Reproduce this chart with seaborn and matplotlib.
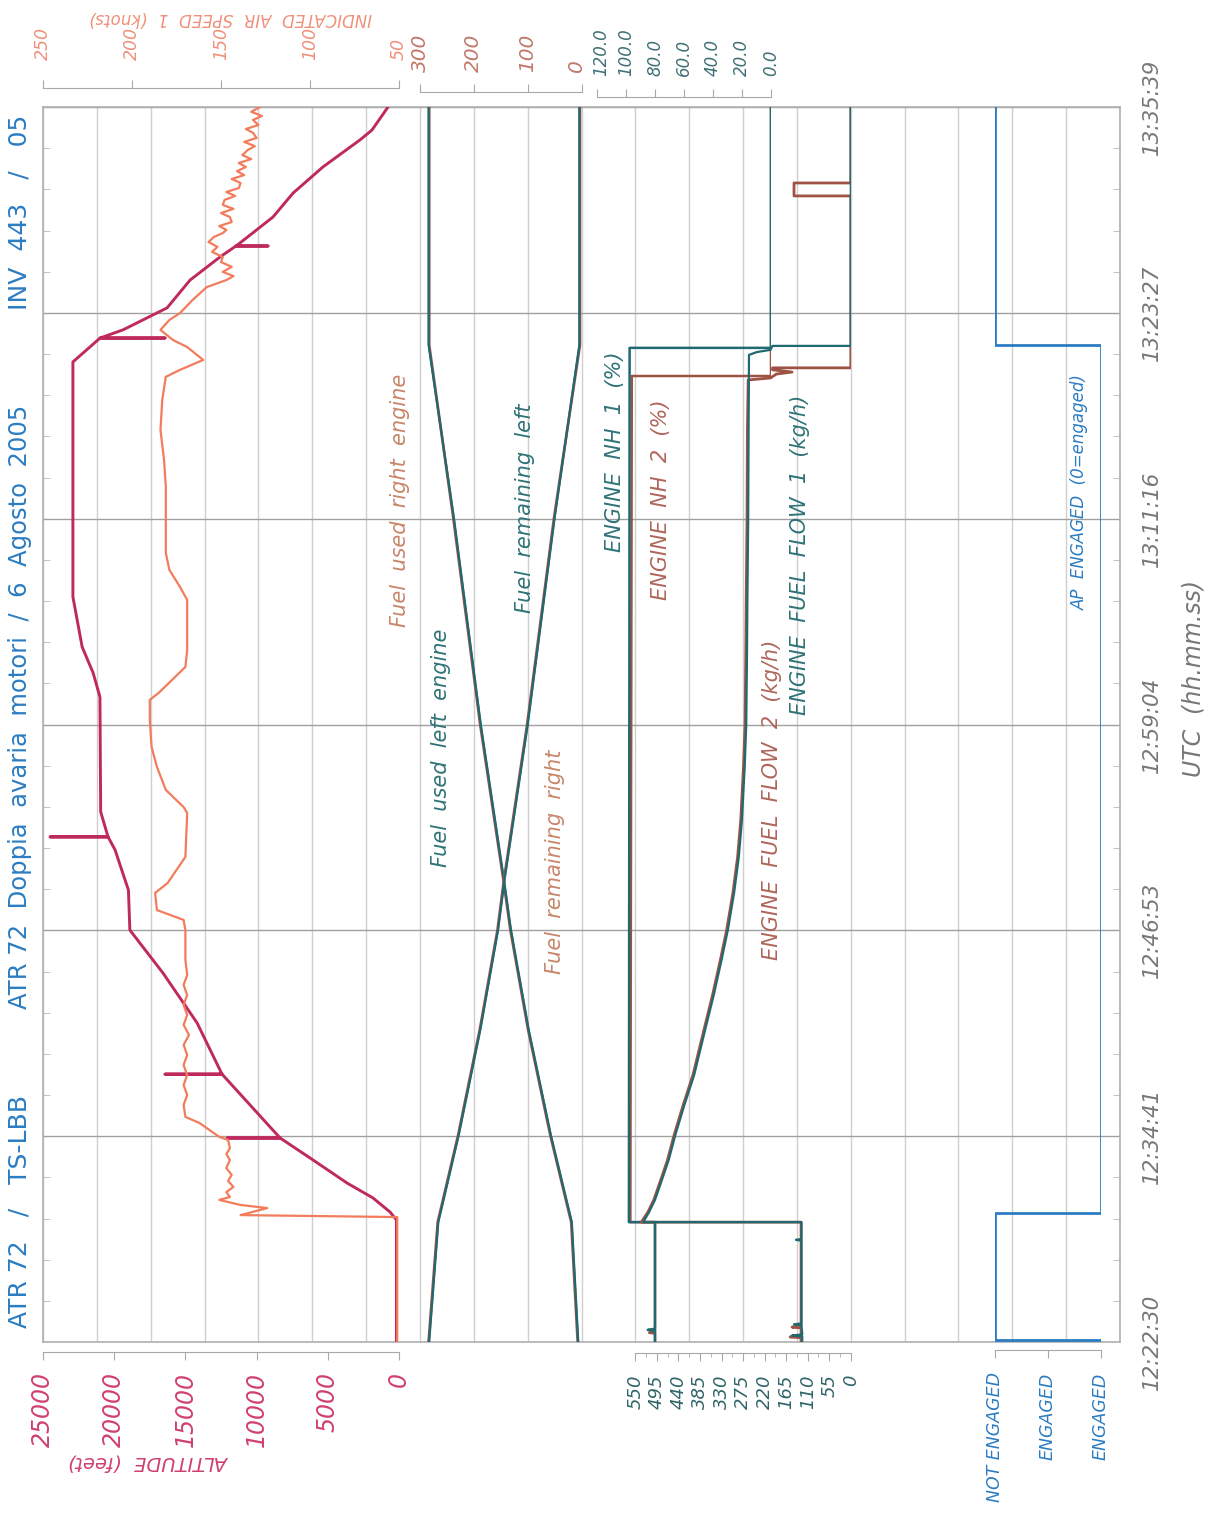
import matplotlib
matplotlib.use("Agg")
import matplotlib.pyplot as plt
import matplotlib.transforms as mtransforms
import seaborn as sns

# ---------------- data (time = seconds after 12:22:30 UTC) ----------------
TIME_TICKS_S = [0, 731.5, 1463, 2194.5, 2926, 3657.5, 4389]
TIME_LABELS = ["12:22:30", "12:34:41", "12:46:53", "12:59:04", "13:11:16", "13:23:27", "13:35:39"]

ALT_T = [0, 434, 462, 512, 565, 647, 725, 725, 725, 952, 952, 952, 1134, 1311, 1464, 1606,
         1749, 1795, 1795, 1795, 1884, 2292, 2378, 2470, 2566, 2648, 3483, 3568, 3568, 3568,
         3597, 3675, 3774, 3856, 3895, 3895, 3895, 3906, 3998, 4083, 4176, 4272, 4307, 4389]
ALT_FT = [180, 180, 630, 1830, 3650, 6040, 8350, 12070, 8350, 12430, 16430, 12430, 14180, 16570,
          18900, 19000, 19940, 20430, 24500, 20430, 20950, 21000, 21480, 22250, 22600, 22900,
          22900, 20990, 16430, 20990, 19380, 16290, 14670, 12570, 11450, 9200, 11450, 11160,
          8850, 7440, 5340, 2740, 1900, 770]

IAS_T = [0, 444, 451, 476, 487, 505, 515, 533, 551, 572, 594, 618, 647, 668, 689, 718, 729, 778,
         800, 842, 878, 913, 949, 984, 1020, 1056, 1091, 1127, 1162, 1198, 1233, 1269, 1304, 1358,
         1411, 1464, 1500, 1535, 1596, 1631, 1724, 1880, 1901, 1962, 2044, 2115, 2211, 2282, 2307,
         2399, 2459, 2548, 2637, 2683, 2744, 2804, 2921, 3039, 3135, 3241, 3348, 3430, 3455, 3490,
         3536, 3561, 3597, 3632, 3657, 3703, 3749, 3774, 3788, 3803, 3821, 3838, 3856, 3874, 3892,
         3909, 3927, 3941, 3952, 3966, 3980, 3998, 4012, 4027, 4041, 4059, 4073, 4087, 4101, 4119,
         4133, 4147, 4161, 4176, 4190, 4204, 4218, 4236, 4250, 4265, 4279, 4297, 4311, 4325, 4343,
         4357, 4372, 4389]
IAS_KT = [51, 51, 139, 124, 139, 151, 145, 147, 143, 146, 144, 147, 145, 147, 145, 146, 151, 162,
          170, 171, 169, 171, 169, 171, 169, 171, 168, 171, 169, 171, 169, 171, 169, 170,
          170, 170, 171, 186, 187, 180, 170, 169, 171, 181, 186, 189, 190, 190, 185,
          170, 169, 169, 169, 173, 179, 181, 181, 181, 182, 184, 183, 181, 173, 160,
          169, 177, 184, 179, 173, 166, 158, 147, 143, 149, 144, 150, 149, 155, 152,
          157, 154, 149, 147, 151, 144, 145, 150, 143, 149, 148, 142, 147, 140, 139,
          144, 137, 141, 136, 140, 133, 138, 135, 131, 137, 130, 132, 136, 129, 132,
          127, 133, 128]

FUEL_T = [0, 426, 736, 1109, 1464, 1642, 2193, 2928, 3543, 4389]
FUEL_USED_RIGHT = [7, 19, 58, 99, 132, 145, 188, 238, 283, 283]
FUEL_USED_LEFT = [6, 18, 57, 98, 131, 144, 187, 237, 284, 284]
FUEL_REM_LEFT = [283, 266, 228, 188, 155, 143, 100, 50, 4, 4]
FUEL_REM_RIGHT = [284, 267, 229, 189, 156, 144, 101, 51, 3, 3]

NH1_T = [0, 40, 43, 47, 426, 426, 3533, 3533, 4389]
NH1_PCT = [80, 80, 85, 80, 80, 98, 97.5, 0, 0]
NH2_T = [0, 30, 33, 36, 426, 426, 3433, 3433, 4389]
NH2_PCT = [80, 80, 84, 80, 80, 97, 96, 0, 0]

FF1_T = [0, 20, 23, 27, 60, 63, 66, 360, 363, 366, 426, 426, 462, 505, 565, 647, 736, 842, 949,
         1109, 1233, 1358, 1464, 1596, 1724, 1855, 2044, 2193, 2459, 2648, 2928, 3241, 3508,
         3518, 3526, 3540, 3540, 4389]
FF1_KGH = [124, 124, 150, 124, 126, 145, 126, 126, 140, 126, 126, 530, 515, 500, 485, 465, 448,
           425, 400, 372, 350, 330, 314, 298, 286, 278, 271, 267, 265, 264, 262, 261, 260, 240,
           205, 200, 0, 0]
FF2_T = [0, 15, 18, 22, 50, 53, 57, 426, 426, 462, 505, 565, 647, 736, 842, 949, 1109, 1233,
         1358, 1464, 1596, 1724, 1855, 2044, 2193, 2459, 2648, 2928, 3241, 3419, 3426, 3440,
         3447, 3455, 3462, 3462, 4073, 4073, 4119, 4119, 4389]
FF2_KGH = [127, 127, 155, 127, 127, 150, 127, 127, 535, 518, 503, 488, 468, 451, 428, 403, 375,
           353, 333, 317, 301, 289, 281, 274, 270, 268, 267, 265, 264, 262, 205, 190, 150, 200,
           200, 0, 0, 145, 145, 0, 0]

AP_T = [0, 7, 7, 458, 458, 3543, 3543, 4389]
AP_STATE = [0, 0, 1, 1, 0, 0, 1, 1]

ALT_TICKS = [0, 5000, 10000, 15000, 20000, 25000]
IAS_TICKS = [50, 100, 150, 200, 250]
FUEL_TICKS = [0, 100, 200, 300]
NH_TICKS = [0, 20, 40, 60, 80, 100, 120]
NH_LABELS = ["0.0", "20.0", "40.0", "60.0", "80.0", "100.0", "120.0"]
FF_TICKS = [0, 55, 110, 165, 220, 275, 330, 385, 440, 495, 550]
AP_TICKS = [1, 0.5, 0]
AP_LABELS = ["NOT ENGAGED", "ENGAGED", "ENGAGED"]

# ---------------- style ----------------
sns.set_style("white")
plt.rcParams["font.family"] = ["DejaVu Sans"]

C_ALT = "#bf2a5e"
C_IAS = "#f27c5c"
C_TEAL = "#1f6a70"
C_BROWN = "#9e5244"
C_BLUE = "#2b7cc2"
C_GREY = "#777777"
C_AXIS = "#a8a8a8"

W, H = 1211, 1517
TOP, BOT = 107, 1342
T_MAX = 4389

fig = plt.figure(figsize=(W / 100, H / 100), dpi=100)


def rect(x0, x1):
    return [x0 / W, 1 - BOT / H, (x1 - x0) / W, (BOT - TOP) / H]


# frame + grid
ax0 = fig.add_axes(rect(43, 1120))
ax0.set_xlim(0, 20)
ax0.set_ylim(0, T_MAX)
ax0.set_xticks(range(21))
ax0.tick_params(axis="x", length=0, labelbottom=False)
ax0.grid(axis="x", color="#cfcfcf", lw=1.0)
ax0.set_yticks(TIME_TICKS_S)
ax0.set_yticks([i * 146.3 for i in range(31)], minor=True)
ax0.grid(axis="y", which="major", color="#a0a0a0", lw=1.0)
ax0.yaxis.tick_right()
ax0.set_yticklabels(TIME_LABELS, rotation=90, va="center", fontsize=15.5,
                    style="italic", color=C_GREY)
ax0.tick_params(axis="y", which="major", length=0, pad=16)
ax0.tick_params(axis="y", which="minor", direction="in", length=5, color="#b8b8b8",
                left=True, right=True)
for s in ax0.spines.values():
    s.set_color("#b0b0b0")
    s.set_linewidth(1.2)


def scale_axes(x0, x1, xlim, side, offset_px, ticks, labels, color, fs, pad_px):
    ax = fig.add_axes(rect(x0, x1))
    ax.patch.set_alpha(0)
    ax.set_xlim(*xlim)
    ax.set_ylim(0, T_MAX)
    for k, s in ax.spines.items():
        s.set_visible(k == side)
    ax.spines[side].set_position(("outward", offset_px * 0.72))
    ax.spines[side].set_color(C_AXIS)
    ax.xaxis.set_ticks_position(side)
    ax.set_xticks(ticks)
    ax.set_xticklabels(labels, rotation=90, color=color, fontsize=fs, style="italic")
    ax.tick_params(axis="x", direction="out", length=6, color=C_AXIS, pad=pad_px * 0.72)
    ax.set_yticks([])
    ax.set_xlabel("")
    ax.set_ylabel("")
    return ax


ax_alt = scale_axes(43, 399, (25000, 0), "bottom", 10, ALT_TICKS, [str(v) for v in ALT_TICKS],
                    "#d0406e", 17, 12)
ax_ias = scale_axes(43, 399, (250, 50), "top", 19, IAS_TICKS, [str(v) for v in IAS_TICKS],
                    "#f0907a", 12.5, 20)
ax_fuel = scale_axes(420, 581.5, (300, 0), "top", 15, FUEL_TICKS, [str(v) for v in FUEL_TICKS],
                     "#c0786a", 14.5, 12)
ax_nh = scale_axes(597, 771, (120, 0), "top", 10, NH_TICKS, NH_LABELS, "#3f7074", 12, 13)
ax_ff = scale_axes(635.4, 850.8, (550, 0), "bottom", 11, FF_TICKS, [str(v) for v in FF_TICKS],
                   "#2f6468", 13, 13)
ax_ff.set_xticks([i * 27.5 for i in range(21)], minor=True)
ax_ff.tick_params(axis="x", which="minor", length=3, color=C_AXIS)
ax_ap = scale_axes(995, 1101, (1, 0), "bottom", 8, AP_TICKS, AP_LABELS, C_BLUE, 12.5, 14)

# the adjacent "0" (fuel) and "120.0" (NH) labels sit side by side: nudge them apart a little
for lab in ax_fuel.get_xticklabels():
    if lab.get_text() == "0":
        lab.set_transform(lab.get_transform() +
                          mtransforms.ScaledTranslation(-5 / 100, 0, fig.dpi_scale_trans))
for lab in ax_nh.get_xticklabels():
    if lab.get_text() == "120.0":
        lab.set_transform(lab.get_transform() +
                          mtransforms.ScaledTranslation(4 / 100, 0, fig.dpi_scale_trans))

# ---------------- series ----------------
kw = dict(orient="y", sort=False, estimator=None)
sns.lineplot(x=IAS_KT, y=IAS_T, ax=ax_ias, color=C_IAS, lw=1.6, **kw)
sns.lineplot(x=ALT_FT, y=ALT_T, ax=ax_alt, color=C_ALT, lw=2.1, **kw)

sns.lineplot(x=FUEL_USED_RIGHT, y=FUEL_T, ax=ax_fuel, color=C_BROWN, lw=2.0, **kw)
sns.lineplot(x=FUEL_USED_LEFT, y=FUEL_T, ax=ax_fuel, color=C_TEAL, lw=1.6, **kw)
sns.lineplot(x=FUEL_REM_RIGHT, y=FUEL_T, ax=ax_fuel, color=C_BROWN, lw=2.0, **kw)
sns.lineplot(x=FUEL_REM_LEFT, y=FUEL_T, ax=ax_fuel, color=C_TEAL, lw=1.6, **kw)

sns.lineplot(x=NH2_PCT, y=NH2_T, ax=ax_nh, color=C_BROWN, lw=1.8, **kw)
sns.lineplot(x=NH1_PCT, y=NH1_T, ax=ax_nh, color=C_TEAL, lw=1.8, **kw)

sns.lineplot(x=FF2_KGH, y=FF2_T, ax=ax_ff, color=C_BROWN, lw=2.0, **kw)
sns.lineplot(x=FF1_KGH, y=FF1_T, ax=ax_ff, color=C_TEAL, lw=1.6, **kw)

sns.lineplot(x=AP_STATE, y=AP_T, ax=ax_ap, color=C_BLUE, lw=2.0, **kw)

for ax, xl in [(ax_alt, (25000, 0)), (ax_ias, (250, 50)), (ax_fuel, (300, 0)),
               (ax_nh, (120, 0)), (ax_ff, (550, 0)), (ax_ap, (1, 0))]:
    ax.set_xlim(*xl)
    ax.set_ylim(0, T_MAX)
    ax.set_xlabel("")
    ax.set_ylabel("")


# ---------------- texts ----------------
def ftext(x, y, s, **k):
    fig.text(x / W, 1 - y / H, s, ha="center", va="center", **k)


ftext(20, 1212, "ATR 72   /   TS-LBB", rotation=90, fontsize=18, color=C_BLUE)
ftext(20, 707, "ATR 72  Doppia  avaria  motori  /  6  Agosto  2005", rotation=90,
      fontsize=17.5, color=C_BLUE)
ftext(20, 212, "INV  443   /   05", rotation=90, fontsize=18, color=C_BLUE)

ftext(150, 1462, "ALTITUDE  (feet)", rotation=180, fontsize=14, color="#d0406e", style="italic")
ftext(230, 18, "INDICATED  AIR  SPEED  1  (knots)", rotation=180, fontsize=12,
      color="#f0907a", style="italic")
ftext(1193, 678, "UTC  (hh.mm.ss)", rotation=90, fontsize=17, color=C_GREY, style="italic")

ann = dict(rotation=90, fontsize=15, style="italic")
ftext(400, 500, "Fuel  used  right  engine", color="#c8866a", **ann)
ftext(441, 748, "Fuel  used  left  engine", color="#2f7377", **ann)
ftext(525, 508, "Fuel  remaining  left", color="#2f7377", **ann)
ftext(555, 862, "Fuel  remaining  right", color="#c8866a", **ann)
ftext(615, 452, "ENGINE  NH  1  (%)", color="#2f7377", **ann)
ftext(661, 500, "ENGINE  NH  2  (%)", color="#b0665a", **ann)
ftext(772, 800, "ENGINE  FUEL  FLOW  2  (kg/h)", color="#b0665a", **ann)
ftext(800, 555, "ENGINE  FUEL  FLOW  1  (kg/h)", color="#2f7377", **ann)
ftext(1080, 492, "AP  ENGAGED  (0=engaged)", rotation=90, fontsize=12, style="italic",
      color=C_BLUE)

fig.savefig("out.png", dpi=100)
